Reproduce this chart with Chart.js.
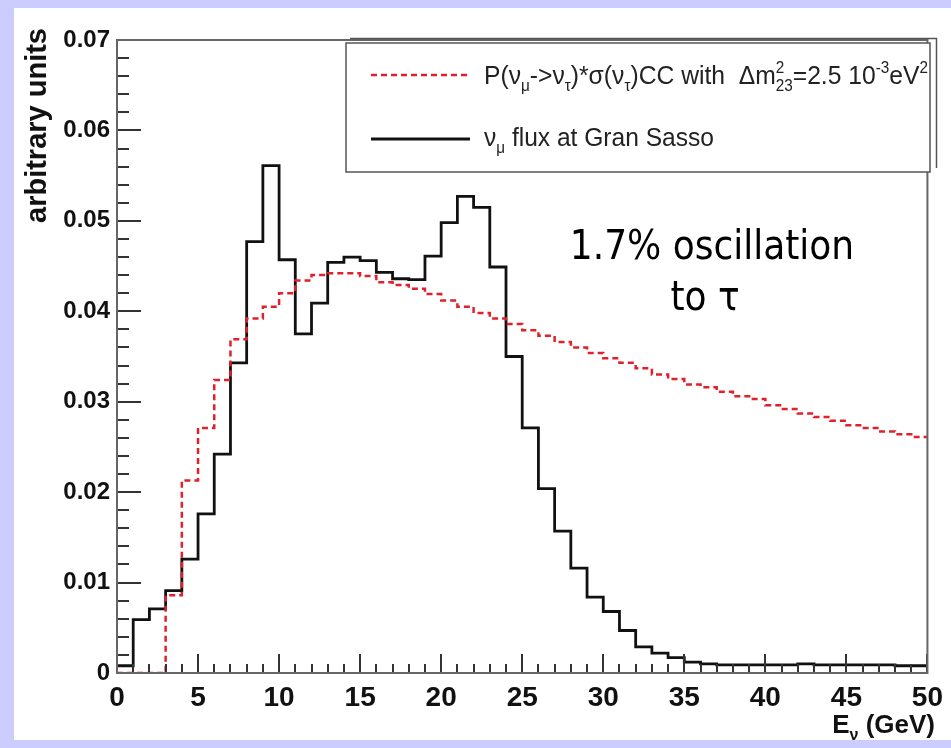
<!DOCTYPE html>
<html><head><meta charset="utf-8">
<script src="https://cdn.jsdelivr.net/npm/chart.js@4.4.1/dist/chart.umd.min.js"></script>
<style>
html,body{margin:0;padding:0;background:#ccccff;overflow:hidden;}
canvas{display:block;}
</style></head><body>
<canvas id="c" width="951" height="748"></canvas>
<script>
// ---- data (bin edges in GeV, bin contents in arbitrary units) ----
const binEdges = [0,1,2,3,4,5,6,7,8,9,10,11,12,13,14,15,16,17,18,19,20,21,22,23,24,25,26,27,28,29,30,31,32,33,34,35,36,37,38,39,40,41,42,43,44,45,46,47,48,49,50];
const fluxGranSasso = [0.0008,0.0059,0.0071,0.0091,0.0126,0.0176,0.0242,0.0343,0.0477,0.0561,
  0.0457,0.0375,0.0409,0.0454,0.0460,0.0456,0.0443,0.0436,0.0435,0.0461,
  0.0498,0.0527,0.0515,0.0449,0.0350,0.0271,0.0204,0.0157,0.0116,0.0084,
  0.0068,0.0047,0.0029,0.0022,0.0017,0.0012,0.0010,0.0009,0.0009,0.0009,
  0.0009,0.0009,0.0010,0.0009,0.0009,0.0009,0.0009,0.0009,0.0008,0.0008];
const oscTimesXsec = [0,0,0,0.0086,0.0213,0.0271,0.0324,0.0369,0.0392,0.0405,
  0.0420,0.0434,0.0440,0.0442,0.0442,0.0439,0.0432,0.0429,0.0425,0.0419,
  0.0412,0.0405,0.0398,0.0392,0.0386,0.0379,0.0373,0.0366,0.0360,0.0354,
  0.0348,0.0343,0.0337,0.0330,0.0325,0.0319,0.0316,0.0311,0.0306,0.0303,
  0.0296,0.0292,0.0287,0.0283,0.0279,0.0274,0.0271,0.0267,0.0264,0.0261];
const xTickLabels = ['0','5','10','15','20','25','30','35','40','45','50'];
const yTickLabels = ['0','0.01','0.02','0.03','0.04','0.05','0.06','0.07'];
const annotationLines = ['1.7% oscillation', 'to \u03c4'];

function histPoints(vals){
  const pts = vals.map((v,i)=>({x:binEdges[i], y:v}));
  pts.push({x:binEdges[vals.length], y:vals[vals.length-1]});
  return pts;
}

const SANS = '"Liberation Sans", Arial, Helvetica, sans-serif';

function drawRich(c, x, y, parts, size, weight, hscale){
  // parts: {t, sub, sup, stack}
  c.save();
  c.translate(x, y);
  c.scale(hscale||1, 1);
  let cx = 0;
  for (const p of parts){
    const small = p.sub || p.sup;
    const s = small ? size*0.62 : size;
    c.font = `${weight} ${s}px ${SANS}`;
    const dy = p.sub ? size*0.28 : (p.sup ? -size*0.42 : 0);
    c.fillText(p.t, cx, dy);
    const w = c.measureText(p.t).width;
    if (!p.noAdvance) cx += w;
  }
  c.restore();
}
function richWidth(c, parts, size, weight){
  let w = 0;
  for (const p of parts){
    const s = (p.sub||p.sup) ? size*0.62 : size;
    c.font = `${weight} ${s}px ${SANS}`;
    if (!p.noAdvance) w += c.measureText(p.t).width;
  }
  return w;
}

const legendLine1 = [{t:'P(\u03bd'},{t:'\u03bc',sub:true},{t:'->\u03bd'},{t:'\u03c4',sub:true},{t:')*\u03c3(\u03bd'},{t:'\u03c4',sub:true},{t:')CC with  \u0394m'},{t:'2',sup:true,noAdvance:true},{t:'23',sub:true},{t:'=2.5 10'},{t:'-3',sup:true},{t:'eV'},{t:'2',sup:true}];
const legendLine2 = [{t:'\u03bd'},{t:'\u03bc',sub:true},{t:' flux at Gran Sasso'}];
const xTitle = [{t:'E'},{t:'\u03bd',sub:true},{t:' (GeV)'}];
const yTitle = 'arbitrary units';

const deco = {
  id:'deco',
  beforeDraw(chart){
    const c = chart.ctx;
    c.save();
    c.fillStyle = '#ccccff'; c.fillRect(0,0,chart.width,chart.height);
    c.fillStyle = '#ffffff'; c.fillRect(14,8,chart.width-14,732);
    c.restore();
  },
  afterDraw(chart){
    const c = chart.ctx, a = chart.chartArea, xs = chart.scales.x, ys = chart.scales.y;
    c.save();
    // tick marks inside the frame
    c.strokeStyle = '#333'; c.lineWidth = 2;
    c.beginPath();
    for (let i = 0; i <= 50; i++){
      const px = Math.round(xs.getPixelForValue(i));
      const len = (i % 5 === 0) ? 19 : 9;
      c.moveTo(px, a.bottom); c.lineTo(px, a.bottom - len);
    }
    for (let i = 0; i <= 35; i++){
      const py = Math.round(ys.getPixelForValue(i*0.002));
      const len = (i % 5 === 0) ? 24 : 12;
      c.moveTo(a.left, py); c.lineTo(a.left + len, py);
    }
    c.stroke();
    // frame
    c.strokeStyle = '#666'; c.lineWidth = 2;
    c.strokeRect(a.left, a.top, a.right-a.left, a.bottom-a.top);

    // legend box
    c.fillStyle = '#fff';
    c.fillRect(346,43,584,129);
    c.strokeStyle = '#555'; c.lineWidth = 1.5;
    c.strokeRect(346,43,584,129);
    c.beginPath();
    c.moveTo(350,38.5); c.lineTo(936.5,38.5); c.lineTo(936.5,168);
    c.stroke();
    // legend samples
    c.lineWidth = 2.5; c.strokeStyle = '#e0202a'; c.setLineDash([6,4]);
    c.beginPath(); c.moveTo(371,75); c.lineTo(470,75); c.stroke();
    c.setLineDash([]); c.strokeStyle = '#111'; c.lineWidth = 3;
    c.beginPath(); c.moveTo(371,139); c.lineTo(470,139); c.stroke();
    // legend text
    c.fillStyle = '#222'; c.textBaseline = 'alphabetic'; c.textAlign = 'left';
    const lsz = 26;
    const w1 = richWidth(c, legendLine1, lsz, 'normal');
    drawRich(c, 484, 84, legendLine1, lsz, 'normal', 444/w1);
    const w2 = richWidth(c, legendLine2, lsz, 'normal');
    drawRich(c, 484, 146, legendLine2, lsz, 'normal', 230/w2);

    // axis titles
    c.fillStyle = '#111';
    const xtw = richWidth(c, xTitle, 26, 'bold');
    drawRich(c, 935 - xtw, 733, xTitle, 26, 'bold', 1);
    c.save();
    c.translate(46, 28); c.rotate(-Math.PI/2);
    c.textAlign = 'right'; c.font = `bold 29px ${SANS}`;
    c.fillText(yTitle, 0, 0);
    c.restore();

    // annotation
    c.fillStyle = '#000'; c.textAlign = 'center';
    c.font = '40px "DejaVu Sans Condensed", "DejaVu Sans", sans-serif';
    c.fillText(annotationLines[0], 712, 259);
    c.fillText(annotationLines[1], 705, 310);
    c.restore();
  }
};

new Chart(document.getElementById('c').getContext('2d'), {
  type:'line',
  data:{datasets:[
    {label:'P(\u03bd\u03bc->\u03bd\u03c4)*\u03c3(\u03bd\u03c4)CC', data:histPoints(oscTimesXsec), stepped:'before',
     borderColor:'#e0202a', borderWidth:2.5, borderDash:[6,4], pointRadius:0, fill:false},
    {label:'\u03bd\u03bc flux at Gran Sasso', data:histPoints(fluxGranSasso), stepped:'before',
     borderColor:'#111', borderWidth:2.8, pointRadius:0, fill:false}
  ]},
  options:{
    responsive:false, animation:false, devicePixelRatio:1,
    layout:{padding:{left:0, top:40, right:16, bottom:0}},
    plugins:{legend:{display:false}, tooltip:{enabled:false}},
    scales:{
      x:{type:'linear', min:0, max:50,
        afterFit:s=>{s.height = 75;},
        grid:{display:false, drawTicks:false}, border:{display:false},
        ticks:{stepSize:5, padding:8, maxRotation:0, autoSkip:false, color:'#111',
          font:{family:SANS, size:28, weight:'bold'},
          callback:(v)=>xTickLabels[Math.round(v/5)]}},
      y:{type:'linear', min:0, max:0.07,
        afterFit:s=>{s.width = 117;},
        grid:{display:false, drawTicks:false}, border:{display:false},
        ticks:{stepSize:0.01, padding:7, color:'#111',
          font:{family:SANS, size:24, weight:'bold'},
          callback:(v)=>yTickLabels[Math.round(v*100)]}}
    }
  },
  plugins:[deco]
});
</script>
</body></html>
